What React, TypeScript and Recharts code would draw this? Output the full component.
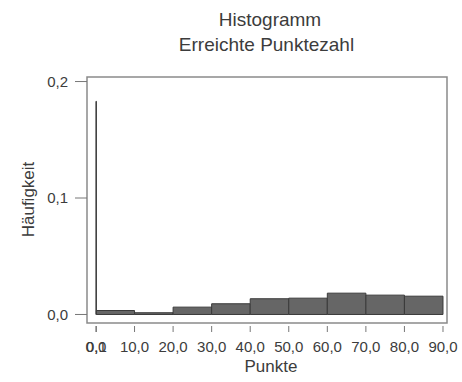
import {ComposedChart, Label, ReferenceArea, Scatter, XAxis, YAxis} from "recharts";

// Histogram bins (Punkte) and their densities
const binStarts = [0, 0.1, 10, 20, 30, 40, 50, 60, 70, 80];
const binEnds = [0.1, 10, 20, 30, 40, 50, 60, 70, 80, 90];
const densities = [0.183, 0.0034, 0.0015, 0.0063, 0.0092, 0.0135, 0.014, 0.0183, 0.0166, 0.0157];

const xTicks = [0, 0.1, 10, 20, 30, 40, 50, 60, 70, 80, 90];
const yTicks = [0, 0.1, 0.2];

const xDomain = [-2.33, 91.04];
const yDomain = [-0.0099, 0.2039];
// frame sits a little above the x tick marks
const frameBottom = -0.0073;

const textColor = "#3c3c3c";
const font = "'Liberation Sans', Arial, sans-serif";

const bins = binStarts.map((start, i) => ({
    start,
    end: binEnds[i],
    mid: (start + binEnds[i]) / 2,
    density: densities[i],
}));

const comma = (v: number) => v.toFixed(1).replace(".", ",");

const App = () => {
    return (
        <div style={{position: "absolute", left: 0, top: 0, width: 462, height: 382, background: "#fff", fontFamily: font}}>
            <div style={{position: "absolute", left: 0, top: 8, width: 540, textAlign: "center", fontSize: 19, color: textColor, lineHeight: "24px"}}>
                Histogramm
            </div>
            <div style={{position: "absolute", left: 0, top: 33, width: 533, textAlign: "center", fontSize: 19, color: textColor, lineHeight: "24px"}}>
                Erreichte Punktezahl
            </div>
            <ComposedChart
                width={462}
                height={382}
                data={bins}
                margin={{top: 77, right: 15, left: 0, bottom: 0}}
                style={{position: "absolute", left: 0, top: 0}}
            >
                <XAxis
                    type="number"
                    dataKey="mid"
                    domain={xDomain}
                    ticks={xTicks}
                    interval={0}
                    allowDataOverflow
                    tickFormatter={comma}
                    height={56}
                    axisLine={false}
                    tickSize={6}
                    tickMargin={9}
                    tickLine={{stroke: "#777"}}
                    tick={{fill: textColor, fontSize: 15, fontFamily: font}}
                >
                    <Label
                        content={({viewBox}: any) => (
                            <text
                                x={viewBox.x + viewBox.width / 2 + 4}
                                y={372}
                                textAnchor="middle"
                                fill={textColor}
                                fontSize={17}
                                fontFamily={font}
                            >
                                Punkte
                            </text>
                        )}
                    />
                </XAxis>
                <YAxis
                    type="number"
                    domain={yDomain}
                    ticks={yTicks}
                    interval={0}
                    allowDataOverflow
                    tickFormatter={comma}
                    width={87}
                    axisLine={false}
                    tickSize={12}
                    tickMargin={7}
                    tickLine={{stroke: "#777"}}
                    tick={{fill: textColor, fontSize: 15, fontFamily: font}}
                >
                    <Label
                        content={({viewBox}: any) => {
                            const cy = viewBox.y + viewBox.height / 2 - 2;
                            return (
                                <text
                                    x={34}
                                    y={cy}
                                    transform={`rotate(-90, 34, ${cy})`}
                                    textAnchor="middle"
                                    fill={textColor}
                                    fontSize={17}
                                    fontFamily={font}
                                >
                                    Häufigkeit
                                </text>
                            );
                        }}
                    />
                </YAxis>
                {/* plot frame */}
                <ReferenceArea
                    x1={xDomain[0]}
                    x2={xDomain[1]}
                    y1={frameBottom}
                    y2={yDomain[1]}
                    fill="none"
                    fillOpacity={0}
                    stroke="#8a8a8a"
                    strokeWidth={1.5}
                    ifOverflow="visible"
                />
                {bins.map((b) => (
                    <ReferenceArea
                        key={b.start}
                        x1={b.start}
                        x2={b.end}
                        y1={0}
                        y2={b.density}
                        fill="#666"
                        fillOpacity={1}
                        stroke="#3a3a3a"
                        strokeWidth={1}
                        ifOverflow="visible"
                    />
                ))}
                <Scatter dataKey="density" isAnimationActive={false} shape={() => null} legendType="none"/>
            </ComposedChart>
        </div>
    );
};

export default App;
